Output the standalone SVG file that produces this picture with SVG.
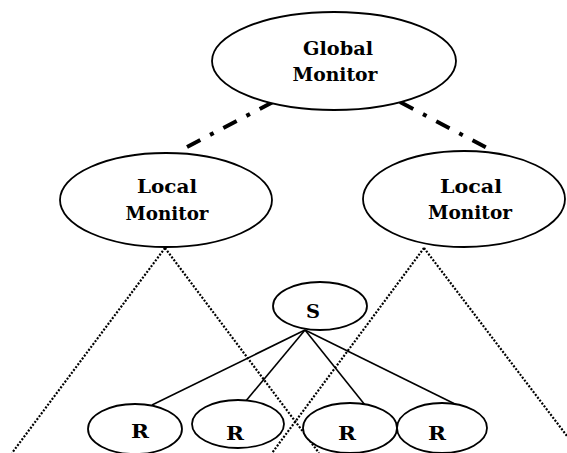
<svg xmlns="http://www.w3.org/2000/svg" width="567" height="453" viewBox="0 0 567 453">
<style>
.n{fill:#fff;stroke:#000;stroke-width:1.8}
.t{font-family:"DejaVu Serif","Liberation Serif",serif;font-weight:bold;font-size:18px;fill:#000;text-anchor:middle}
.dd{stroke:#000;stroke-width:4;fill:none;stroke-dasharray:15 11 4 11}
.dot{stroke:#000;stroke-width:2.2;fill:none;stroke-dasharray:2 1.6}
.s{stroke:#000;stroke-width:1.6;fill:none}
</style>
<rect width="567" height="453" fill="#fff"/>
<g id="connectors">
<line class="dd" x1="273" y1="102" x2="183" y2="149"/>
<line class="dd" x1="400" y1="102" x2="489" y2="149"/>
<line class="dot" x1="165" y1="248" x2="12" y2="453"/>
<line class="dot" x1="165" y1="248" x2="319" y2="453"/>
<line class="dot" x1="424" y1="248" x2="272" y2="453"/>
<line class="dot" x1="424" y1="248" x2="567" y2="436"/>
<line class="s" x1="305" y1="330" x2="152" y2="405"/>
<line class="s" x1="305" y1="330" x2="245" y2="402"/>
<line class="s" x1="305" y1="330" x2="365" y2="405"/>
<line class="s" x1="305" y1="330" x2="457" y2="405"/>
</g>
<g id="global">
<ellipse class="n" cx="334" cy="61" rx="122" ry="49"/>
<text class="t" x="338" y="55" textLength="70" lengthAdjust="spacingAndGlyphs">Global</text>
<text class="t" x="335" y="81" textLength="85" lengthAdjust="spacingAndGlyphs">Monitor</text>
</g>
<g id="local1">
<ellipse class="n" cx="166" cy="200" rx="106" ry="47"/>
<text class="t" x="167" y="193" textLength="60" lengthAdjust="spacingAndGlyphs">Local</text>
<text class="t" x="167" y="220" textLength="83" lengthAdjust="spacingAndGlyphs">Monitor</text>
</g>
<g id="local2">
<ellipse class="n" cx="464" cy="199" rx="101" ry="48"/>
<text class="t" x="471" y="193" textLength="62" lengthAdjust="spacingAndGlyphs">Local</text>
<text class="t" x="470" y="219" textLength="84" lengthAdjust="spacingAndGlyphs">Monitor</text>
</g>
<g id="s">
<ellipse class="n" cx="320" cy="306" rx="47" ry="24"/>
<text class="t" x="313" y="318" textLength="14" lengthAdjust="spacingAndGlyphs">S</text>
</g>
<g id="r1">
<ellipse class="n" cx="135" cy="429" rx="47" ry="25"/>
<text class="t" x="140" y="438" textLength="18" lengthAdjust="spacingAndGlyphs">R</text>
</g>
<g id="r2">
<ellipse class="n" cx="238" cy="424" rx="46" ry="24"/>
<text class="t" x="235" y="440" textLength="18" lengthAdjust="spacingAndGlyphs">R</text>
</g>
<g id="r3">
<ellipse class="n" cx="350" cy="428" rx="47" ry="25"/>
<text class="t" x="347" y="440" textLength="18" lengthAdjust="spacingAndGlyphs">R</text>
</g>
<g id="r4">
<ellipse class="n" cx="442" cy="428" rx="45" ry="25"/>
<text class="t" x="437" y="440" textLength="18" lengthAdjust="spacingAndGlyphs">R</text>
</g>
</svg>
